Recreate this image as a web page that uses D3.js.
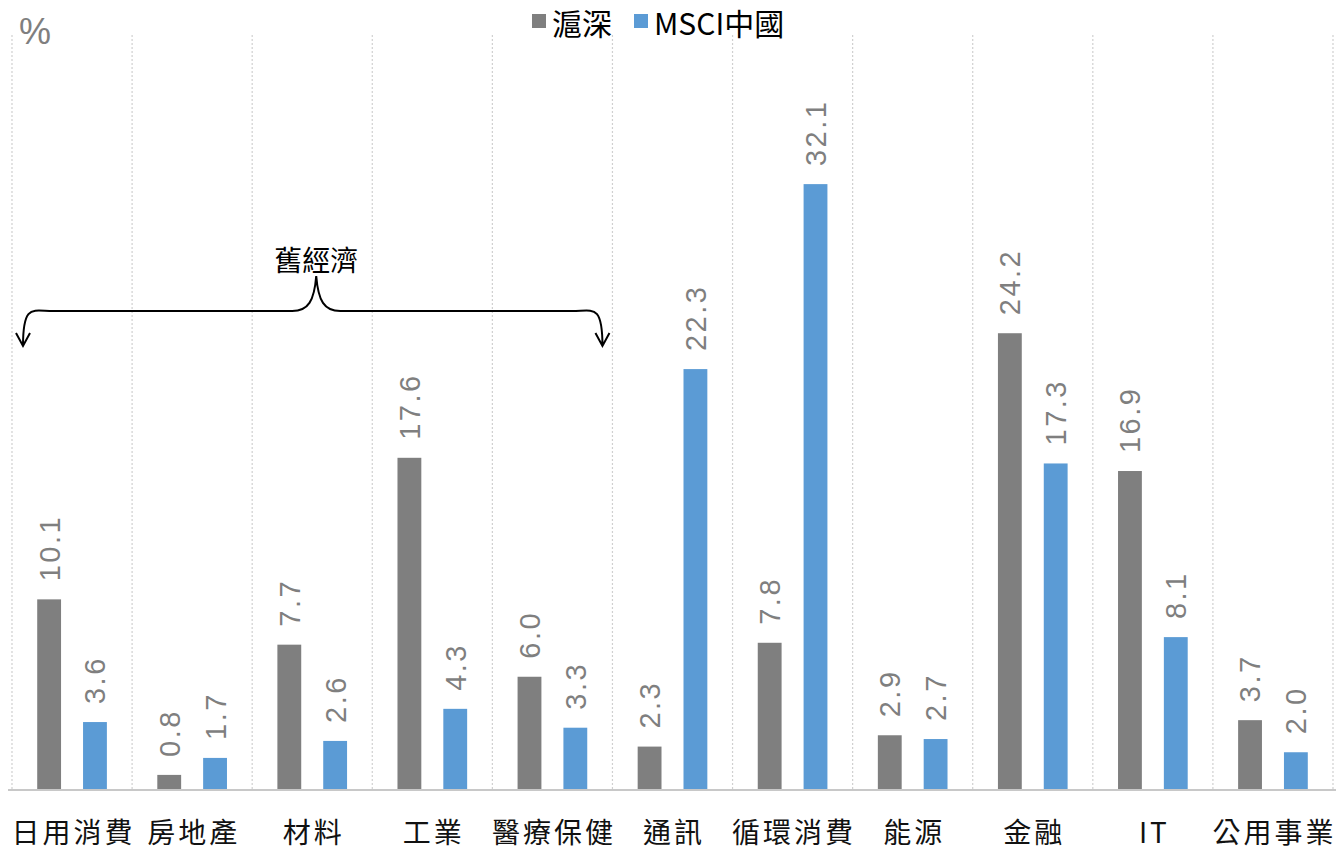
<!DOCTYPE html>
<html>
<head>
<meta charset="utf-8">
<script src="https://cdn.jsdelivr.net/npm/d3@7"></script>
<style>
  body { margin: 0; background: #fff; }
  svg { display: block; }
</style>
</head>
<body>
<div id="chart"></div>
<script>
// Sectors and the two series (% weights)
var sectors = ["日用消費", "房地產", "材料", "工業", "醫療保健", "通訊", "循環消費", "能源", "金融", "IT", "公用事業"];
var seriesNames = ["滬深", "MSCI中國"];
var hushen = [10.1, 0.8, 7.7, 17.6, 6.0, 2.3, 7.8, 2.9, 24.2, 16.9, 3.7];
var msciChina = [3.6, 1.7, 2.6, 4.3, 3.3, 22.3, 32.1, 2.7, 17.3, 8.1, 2.0];
var colors = ["#7f7f7f", "#5b9bd5"];

var width = 1336, height = 850;
var cjk = "'Noto Sans CJK TC', 'Noto Sans CJK SC', sans-serif";
var num = "'Liberation Sans', Arial, sans-serif";

var data = sectors.map(function(s, i) {
    return { sector: s, values: [hushen[i], msciChina[i]] };
});

var svg = d3.select("#chart")
            .append("svg")
            .attr("width", width)
            .attr("height", height);

// Scales
var x0 = d3.scaleBand()
           .domain(sectors)
           .range([12, 1333])
           .padding(0);

var x1 = d3.scaleBand()
           .domain([0, 1])
           .range([0, x0.bandwidth()])
           .paddingInner(0.48)
           .paddingOuter(0.55);

var y = d3.scaleLinear()
          .domain([0, 40])
          .range([790, 35]);

// Dotted vertical separators between categories
var edges = sectors.map(function(s) { return x0(s); }).concat([x0.range()[1]]);
svg.append("g")
   .selectAll("line")
   .data(edges)
   .enter()
   .append("line")
   .attr("x1", function(d) { return d; })
   .attr("x2", function(d) { return d; })
   .attr("y1", y(40))
   .attr("y2", y(0))
   .attr("stroke", "#d0d0d0")
   .attr("stroke-width", 1.2)
   .attr("stroke-dasharray", "2,2");

// Bars
var groups = svg.append("g")
   .selectAll("g")
   .data(data)
   .enter()
   .append("g")
   .attr("transform", function(d) { return "translate(" + x0(d.sector) + ",0)"; });

groups.selectAll("rect")
   .data(function(d) { return d.values; })
   .enter()
   .append("rect")
   .attr("x", function(d, i) { return x1(i); })
   .attr("y", function(d) { return y(d); })
   .attr("width", x1.bandwidth())
   .attr("height", function(d) { return y(0) - y(d); })
   .attr("fill", function(d, i) { return colors[i]; });

// Rotated value labels
groups.selectAll("text")
   .data(function(d) { return d.values; })
   .enter()
   .append("text")
   .attr("transform", function(d, i) {
       return "translate(" + (x1(i) + x1.bandwidth() / 2) + "," + (y(d) - 18) + ") rotate(-90)";
   })
   .attr("dy", "0.36em")
   .attr("font-family", num)
   .attr("font-size", "29px")
   .attr("letter-spacing", "2.5px")
   .attr("fill", "#7f7f7f")
   .text(function(d) { return d.toFixed(1); });

// x axis
var xAxis = svg.append("g")
   .attr("transform", "translate(0," + y(0) + ")")
   .call(d3.axisBottom(x0).tickSize(0).tickPadding(33));
xAxis.select(".domain")
   .attr("stroke", "#c8c8c8")
   .attr("stroke-width", 2)
   .attr("d", "M8,0H1336");
xAxis.selectAll("text")
   .attr("font-family", cjk)
   .attr("font-size", "28px")
   .attr("letter-spacing", "3px")
   .attr("fill", "#111")
   .attr("dx", "1.5px");

// "%" unit label
svg.append("text")
   .attr("x", 19)
   .attr("y", 44)
   .attr("font-family", num)
   .attr("font-size", "36px")
   .attr("fill", "#7f7f7f")
   .text("%");

// Legend
var legendX = [532, 634];
var legend = svg.append("g")
   .selectAll("g")
   .data(seriesNames)
   .enter()
   .append("g")
   .attr("transform", function(d, i) { return "translate(" + legendX[i] + ",0)"; });
legend.append("rect")
   .attr("x", 0)
   .attr("y", 14)
   .attr("width", 14)
   .attr("height", 14)
   .attr("fill", function(d, i) { return colors[i]; });
legend.append("text")
   .attr("x", 20)
   .attr("y", 35)
   .attr("font-family", cjk)
   .attr("font-size", "30px")
   .attr("fill", "#000")
   .text(function(d) { return d; });

// Brace annotation over the first five sectors
var bl = x0(sectors[0]) + 11;
var br = x0(sectors[5]) - 10;
var bm = (x0(sectors[0]) + x0(sectors[4]) + x0.bandwidth()) / 2 + 4;
var by = 311, tipY = 346, peakY = 276;
var brace = d3.path();
brace.moveTo(bl, tipY);
brace.bezierCurveTo(bl, by - 8, bl + 10, by, bl + 30, by);
brace.lineTo(bm - 24, by);
brace.bezierCurveTo(bm - 8, by, bm - 2, by - 10, bm, peakY);
brace.bezierCurveTo(bm + 2, by - 10, bm + 8, by, bm + 24, by);
brace.lineTo(br - 30, by);
brace.bezierCurveTo(br - 10, by, br, by - 8, br, tipY);
[bl, br].forEach(function(t) {
    brace.moveTo(t - 7, tipY - 13);
    brace.lineTo(t, tipY);
    brace.lineTo(t + 7, tipY - 13);
});
svg.append("path")
   .attr("d", brace.toString())
   .attr("fill", "none")
   .attr("stroke", "#000")
   .attr("stroke-width", 2);

svg.append("text")
   .attr("x", bm)
   .attr("y", 271)
   .attr("text-anchor", "middle")
   .attr("font-family", cjk)
   .attr("font-size", "28px")
   .attr("fill", "#000")
   .text("舊經濟");
</script>
</body>
</html>
